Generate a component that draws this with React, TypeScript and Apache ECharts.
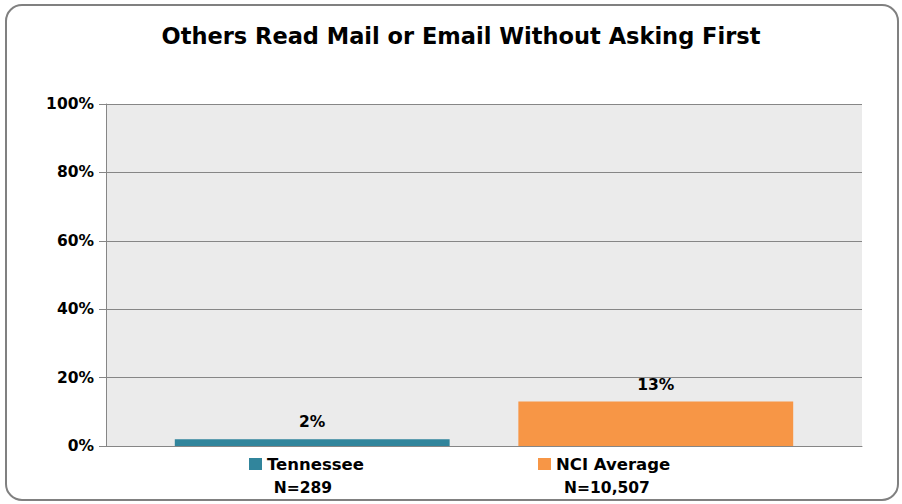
import React, { useEffect, useRef } from "react";
import * as echarts from "echarts";

const title = "Others Read Mail or Email Without Asking First";
const seriesNames = ["Tennessee", "NCI Average"];
const seriesValues = [2, 13];
const sampleSizes = ["N=289", "N=10,507"];
const seriesColors = ["#31859c", "#f79646"];
const yTicks = [0, 20, 40, 60, 80, 100];

const FONT = "DejaVu Sans";

export default function App() {
  const ref = useRef<HTMLDivElement>(null);
  useEffect(() => {
    document.body.style.margin = "0";
    const chart = echarts.init(ref.current!, null, { renderer: "svg" });
    const legendLefts = [249, 538];
    const nCenters = [303, 607];
    chart.setOption({
      animation: false,
      backgroundColor: "#ffffff",
      title: {
        text: title,
        left: 456,
        textAlign: "center",
        top: 19,
        textStyle: { fontFamily: FONT, fontSize: 22.5, fontWeight: "bold", color: "#000" },
      },
      grid: { left: 106, right: 40, top: 104, bottom: 58, show: true, backgroundColor: "#ebebeb", borderWidth: 0 },
      xAxis: {
        type: "category",
        data: [""],
        axisLine: { show: true, lineStyle: { color: "#868686", width: 1 } },
        axisTick: { show: false },
        axisLabel: { show: false },
      },
      yAxis: {
        type: "value",
        min: yTicks[0],
        max: yTicks[yTicks.length - 1],
        interval: 20,
        axisLine: { show: true, lineStyle: { color: "#868686", width: 1 } },
        axisTick: { show: true, length: 7, lineStyle: { color: "#868686" } },
        splitLine: { show: true, lineStyle: { color: "#868686", width: 1 } },
        axisLabel: {
          formatter: "{value}%",
          fontFamily: FONT,
          fontSize: 15.5,
          fontWeight: "bold",
          color: "#000",
          margin: 12,
        },
      },
      legend: seriesNames.map((n, i) => ({
        data: [n],
        left: legendLefts[i],
        top: 455,
        padding: 0,
        icon: "rect",
        itemWidth: 13,
        itemHeight: 12,
        selectedMode: false,
        textStyle: { fontFamily: FONT, fontSize: 16.5, fontWeight: "bold", color: "#000", lineHeight: 18 },
      })),
      series: seriesNames.map((n, i) => ({
        type: "bar",
        name: n,
        data: [seriesValues[i]],
        itemStyle: { color: seriesColors[i] },
        barGap: "25%",
        barCategoryGap: "18.2%",
        label: {
          show: true,
          position: "top",
          distance: 9,
          formatter: "{c}%",
          fontFamily: FONT,
          fontSize: 15.5,
          fontWeight: "bold",
          color: "#000",
        },
      })),
      graphic: [
        {
          type: "rect",
          shape: { x: 6, y: 5, width: 892, height: 495, r: 16 },
          style: { fill: "none", stroke: "#808080", lineWidth: 2 },
          z: 10,
          silent: true,
        },
        ...sampleSizes.map((s, i) => ({
          type: "text",
          x: nCenters[i],
          y: 488,
          style: {
            text: s,
            fontFamily: FONT,
            fontSize: 15.5,
            fontWeight: "bold",
            fill: "#000",
            textAlign: "center",
            textVerticalAlign: "middle",
          },
        })),
      ],
    });
    return () => chart.dispose();
  }, []);
  return <div ref={ref} style={{ width: 902, height: 504 }} />;
}
